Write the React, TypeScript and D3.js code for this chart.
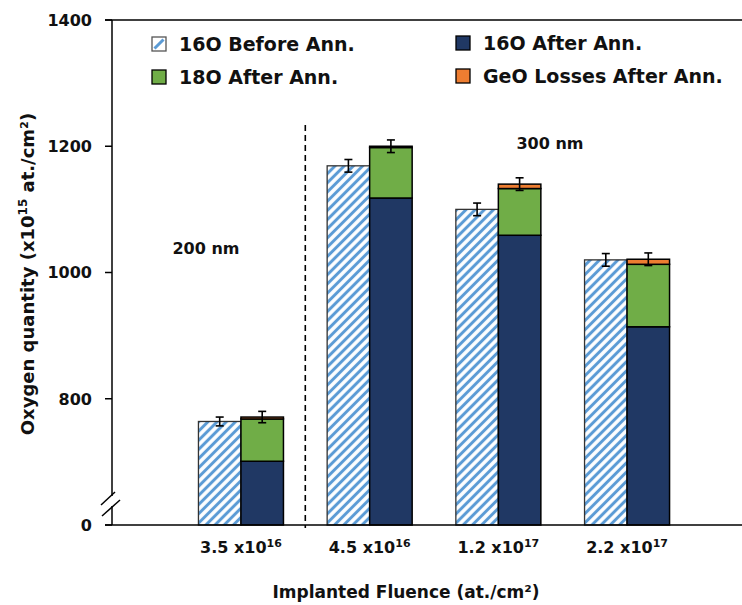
import React from "react";
import * as d3 from "d3";

const categories = ["3.5", "4.5", "1.2", "2.2"];
const catExponents = ["16", "16", "17", "17"];
const before16O = [764, 1169, 1100, 1020];
const before16OErr = [7, 10, 10, 10];
const after16O = [701, 1118, 1059, 914];
const after18O = [67, 80, 74, 99];
const geoLosses = [3, 2, 7, 8];
const afterErr = [9, 10, 10, 10];
const yTicks = [600, 800, 1000, 1200, 1400];
const yTickLabels = ["0", "800", "1000", "1200", "1400"];
const legendLabels = ["16O Before Ann.", "16O After Ann.", "18O After Ann.", "GeO Losses After Ann."];

const W = 742;
const H = 605;
const FONT = "'DejaVu Sans', sans-serif";
const NAVY = "#203864";
const GREEN = "#70AD47";
const ORANGE = "#ED7D31";
const BLUE = "#5B9BD5";
const TXT = "#111";

export default function App() {
  const axisX = 112;
  const y = d3.scaleLinear().domain([600, 1400]).range([525, 20]);
  const x0 = d3.scaleBand<string>().domain(categories).range([176.6, 691.4]).padding(0);
  const x1 = d3
    .scaleBand<string>()
    .domain(["before", "after"])
    .range([0, x0.bandwidth()])
    .paddingInner(0)
    .paddingOuter(0.514);
  const bw = x1.bandwidth();
  const base = y(600);

  const bars: React.ReactNode[] = [];
  categories.forEach((c, i) => {
    const xb = (x0(c) ?? 0) + (x1("before") ?? 0);
    const xa = (x0(c) ?? 0) + (x1("after") ?? 0);
    bars.push(
      <rect key={`b${i}`} x={xb} y={y(before16O[i])} width={bw} height={base - y(before16O[i])}
        fill="url(#hatch)" stroke="#333" strokeWidth={1.3} />
    );
    const s1 = after16O[i];
    const s2 = s1 + after18O[i];
    const s3 = s2 + geoLosses[i];
    bars.push(
      <rect key={`n${i}`} x={xa} y={y(s1)} width={bw} height={base - y(s1)} fill={NAVY} stroke="#000" strokeWidth={1.5} />
    );
    bars.push(
      <rect key={`g${i}`} x={xa} y={y(s2)} width={bw} height={y(s1) - y(s2)} fill={GREEN} stroke="#000" strokeWidth={1.5} />
    );
    bars.push(
      <rect key={`o${i}`} x={xa} y={y(s3)} width={bw} height={y(s2) - y(s3)} fill={ORANGE} stroke="#000" strokeWidth={1.5} />
    );
    const eb = [
      { cx: xb + bw / 2, v: before16O[i], e: before16OErr[i] },
      { cx: xa + bw / 2, v: s3, e: afterErr[i] },
    ];
    eb.forEach((d, k) => {
      bars.push(
        <g key={`e${i}${k}`} stroke="#000" strokeWidth={1.6}>
          <line x1={d.cx} x2={d.cx} y1={y(d.v + d.e)} y2={y(d.v - d.e)} />
          <line x1={d.cx - 4} x2={d.cx + 4} y1={y(d.v + d.e)} y2={y(d.v + d.e)} />
          <line x1={d.cx - 4} x2={d.cx + 4} y1={y(d.v - d.e)} y2={y(d.v - d.e)} />
        </g>
      );
    });
  });

  const dashX = x0(categories[1]) ?? 0;

  const legendItems = [
    { label: legendLabels[0], fill: "#fff", stroke: "#555", x: 152, y: 37, hatch: true },
    { label: legendLabels[1], fill: NAVY, stroke: "#000", x: 456, y: 36, hatch: false },
    { label: legendLabels[2], fill: GREEN, stroke: "#000", x: 152, y: 70, hatch: false },
    { label: legendLabels[3], fill: ORANGE, stroke: "#000", x: 456, y: 69, hatch: false },
  ];

  return (
    <svg width={W} height={H} style={{ position: "absolute", left: 0, top: 0, background: "#fff" }} fontFamily={FONT}>
      <defs>
        <pattern id="hatch" patternUnits="userSpaceOnUse" width={6.5} height={6.5} patternTransform="rotate(45)">
          <rect width={6.5} height={6.5} fill="#fff" />
          <line x1={3.25} y1={-1} x2={3.25} y2={7.5} stroke={BLUE} strokeWidth={3} />
        </pattern>
      </defs>

      <line x1={105} x2={742} y1={y(1400)} y2={y(1400)} stroke="#000" strokeWidth={1.5} />
      <line x1={axisX} x2={axisX} y1={y(1400)} y2={496} stroke="#000" strokeWidth={1.5} />
      <line x1={axisX} x2={axisX} y1={506} y2={base} stroke="#000" strokeWidth={1.5} />
      <line x1={101} y1={505} x2={115} y2={492} stroke="#000" strokeWidth={1.5} />
      <line x1={102} y1={516} x2={120} y2={500} stroke="#000" strokeWidth={1.5} />
      {yTicks.map((t, i) => (
        <g key={t}>
          <line x1={105} x2={axisX} y1={y(t)} y2={y(t)} stroke="#000" strokeWidth={1.5} />
          <text x={92} y={y(t)} dy="0.36em" textAnchor="end" fontSize={16} fontWeight={700} fill={TXT}>
            {yTickLabels[i]}
          </text>
        </g>
      ))}

      <line x1={dashX} x2={dashX} y1={125} y2={528} stroke="#000" strokeWidth={1.6} strokeDasharray="6,4" />

      {bars}

      <line x1={105} x2={742} y1={base} y2={base} stroke="#000" strokeWidth={1.5} />

      {categories.map((c, i) => (
        <text key={c} x={(x0(c) ?? 0) + x0.bandwidth() / 2} y={553} textAnchor="middle" fontSize={16} fontWeight={700} fill={TXT}>
          {c} x10
          <tspan fontSize={11} dy={-6}>{catExponents[i]}</tspan>
        </text>
      ))}

      <text x={206} y={248} dy="0.36em" textAnchor="middle" fontSize={16} fontWeight={700} fill={TXT}>200 nm</text>
      <text x={550} y={143} dy="0.36em" textAnchor="middle" fontSize={16} fontWeight={700} fill={TXT}>300 nm</text>

      {legendItems.map((d) => (
        <g key={d.label}>
          <rect x={d.x} y={d.y} width={14} height={14} fill={d.fill} stroke={d.stroke} strokeWidth={1.3} />
          {d.hatch && (
            <line x1={d.x + 2.5} y1={d.y + 11.5} x2={d.x + 11.5} y2={d.y + 2.5} stroke={BLUE} strokeWidth={3} />
          )}
          <text x={d.x + 27} y={d.y + 7} dy="0.36em" fontSize={19} fontWeight={700} fill={TXT}>{d.label}</text>
        </g>
      ))}

      <text x={406} y={598} textAnchor="middle" fontSize={17} fontWeight={700} fill={TXT}>
        Implanted Fluence (at./cm²)
      </text>
      <text transform="translate(34,274) rotate(-90)" textAnchor="middle" fontSize={18} fontWeight={700} fill={TXT}>
        Oxygen quantity (x10
        <tspan fontSize={12} dy={-7}>15</tspan>
        <tspan dy={7}> at./cm²)</tspan>
      </text>
    </svg>
  );
}
